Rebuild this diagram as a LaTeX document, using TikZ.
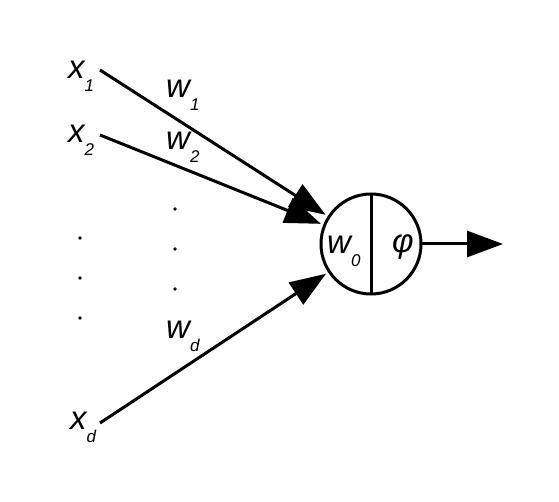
\documentclass[tikz,border=0pt]{standalone}
\usepackage{fontspec}
\setmainfont{Liberation Sans}
\usetikzlibrary{arrows.meta}
\newcommand{\sbs}[1]{\raisebox{-13pt}{\fontsize{17}{17}\selectfont #1}}
\begin{document}
\begin{tikzpicture}[x=1pt,y=-1pt,
  lab/.style={inner sep=0pt, anchor=base west, font=\fontsize{33}{33}\selectfont\itshape},
  arr/.style={line width=3pt, -{Triangle[length=36pt,width=26pt]}, shorten >=4pt},
  dotmark/.style={circle, fill=black, inner sep=0pt, minimum size=3.8pt},
  neuron/.style={circle, draw, line width=3pt, minimum size=100pt, inner sep=0pt, outer sep=0pt}]
\useasboundingbox (0,0) rectangle (559,502);
% neuron
\node[neuron] (n) at (371,244) {};
\draw[line width=3pt] (n.north) -- (n.south);
% labels
\node[lab] (x1) at (68,79) {x\sbs{1}};
\node[lab] (x2) at (68,143) {x\sbs{2}};
\node[lab] (xd) at (70,429) {x\sbs{d}};
\node[lab] (w1) at (166,98) {w\sbs{1}};
\node[lab] (w2) at (166,150) {w\sbs{2}};
\node[lab] (wd) at (166,338) {w\sbs{d}};
\node[lab] (w0) at (327,254) {w\sbs{0}};
\node[inner sep=0pt, font=\fontsize{33}{33}\selectfont\itshape] (phi) at (403,247) {φ};
% dots
\node[dotmark] (l1) at (80,238) {};
\node[dotmark] (l2) at (80,278) {};
\node[dotmark] (l3) at (80,318) {};
\node[dotmark] (m1) at (175,209) {};
\node[dotmark] (m2) at (175,249) {};
\node[dotmark] (m3) at (175,289) {};
% connectors
\coordinate (s1) at (100,70);
\coordinate (s2) at (100,135);
\coordinate (sd) at (100,423);
\coordinate (out) at (503,244);
\draw[arr] (s1) -- (n);
\draw[arr] (s2) -- (n);
\draw[arr] (sd) -- (n);
\draw[arr, shorten >=0pt] (n) -- (out);
\end{tikzpicture}
\end{document}
